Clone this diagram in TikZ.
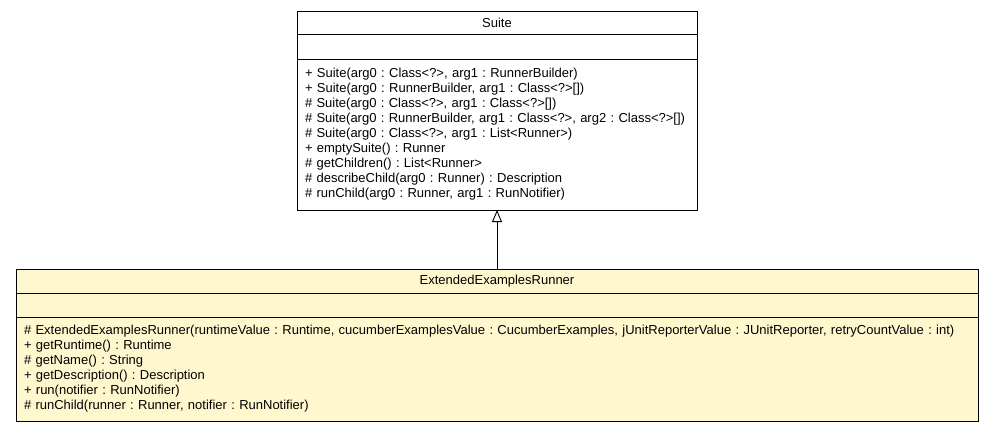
\documentclass[tikz,border=0pt]{standalone}
\usepackage{fontspec}
\setmainfont{Liberation Sans}
\usepackage{tikz}
\usetikzlibrary{positioning,arrows.meta}
\definecolor{noteyellow}{RGB}{255,248,206}
\frenchspacing

\begin{document}
\begin{tikzpicture}[x=1pt,y=1pt,line width=0.9pt,
  umlpart/.style={draw=black, outer sep=0pt, inner sep=0pt,
    font=\fontsize{13}{15}\selectfont},
  classname/.style={umlpart, minimum height=23pt},
  attrpart/.style={umlpart, minimum height=24pt},
  oppart/.style={umlpart, align=left, inner xsep=8pt},
  extends/.style={-{Triangle[open,width=10pt,length=12pt]}}]
\useasboundingbox (0,0) rectangle (995,-432);

% superclass
\node[classname, minimum width=400pt] (suite) at (497,-22.5) {Suite};
\node[attrpart, minimum width=400pt, minimum height=25pt, below=0pt of suite] (suiteattr) {};
\node[oppart, text width=384pt, minimum height=151pt, below=0pt of suiteattr] (suiteops) {%
+ Suite(arg0 : Class<?>, arg1 : RunnerBuilder)\\
+ Suite(arg0 : RunnerBuilder, arg1 : Class<?>[])\\
\# Suite(arg0 : Class<?>, arg1 : Class<?>[])\\
\# Suite(arg0 : RunnerBuilder, arg1 : Class<?>, arg2 : Class<?>[])\\
\# Suite(arg0 : Class<?>, arg1 : List<Runner>)\\
+ emptySuite() : Runner\\
\# getChildren() : List<Runner>\\
\# describeChild(arg0 : Runner) : Description\\
\# runChild(arg0 : Runner, arg1 : RunNotifier)};

% subclass
\node[classname, fill=noteyellow, minimum width=962pt, minimum height=24pt] (runner) at (497,-281) {ExtendedExamplesRunner};
\node[attrpart, fill=noteyellow, minimum width=962pt, below=0pt of runner] (runnerattr) {};
\node[oppart, fill=noteyellow, text width=946pt, minimum height=104pt, below=0pt of runnerattr] (runnerops) {%
\# ExtendedExamplesRunner(runtimeValue : Runtime, cucumberExamplesValue : CucumberExamples, jUnitReporterValue : JUnitReporter, retryCountValue : int)\\
+ getRuntime() : Runtime\\
\# getName() : String\\
+ getDescription() : Description\\
+ run(notifier : RunNotifier)\\
\# runChild(runner : Runner, notifier : RunNotifier)};

\draw[extends] (runner.north) -- (suiteops.south);
\end{tikzpicture}
\end{document}
